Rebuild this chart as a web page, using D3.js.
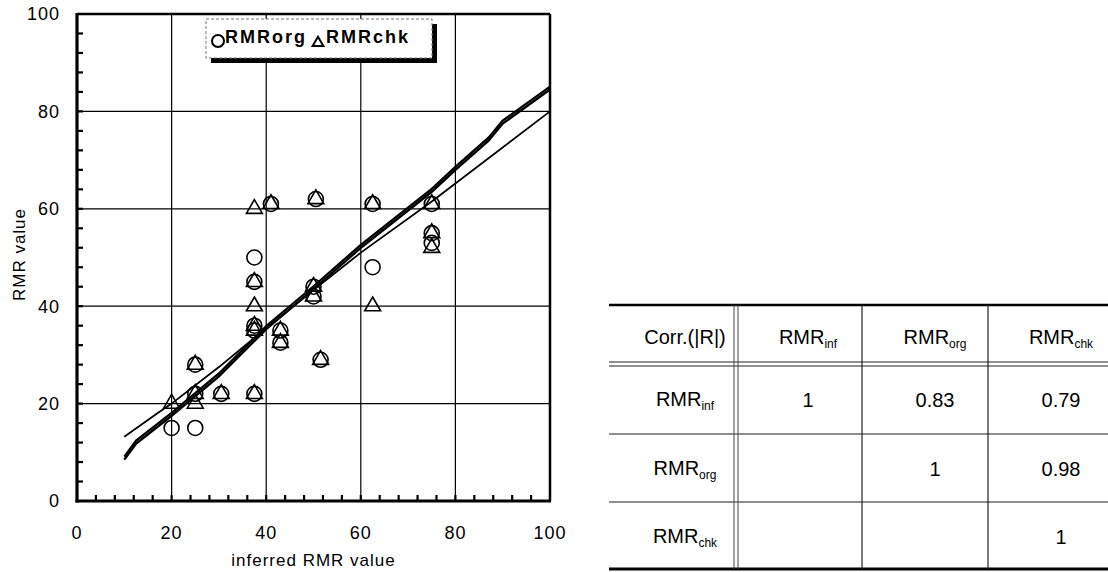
<!DOCTYPE html>
<html>
<head>
<meta charset="utf-8">
<script src="https://cdn.jsdelivr.net/npm/d3@7"></script>
<style>
  body { margin: 0; background: #fff; }
  svg { display: block; font-family: "Liberation Sans", Arial, sans-serif; }
</style>
</head>
<body>
<script>
  // ----- data -----
  const orgX = [20, 25, 25, 25, 30.5, 37.5, 37.5, 37.5, 37.5, 37.5, 41, 43, 43, 50, 50, 50.5, 51.5, 62.5, 62.5, 75, 75, 75];
  const orgY = [15, 15, 22, 28, 22, 22, 35, 36, 45, 50, 61, 35, 32.5, 42, 44, 62, 29, 48, 61, 61, 55, 53];

  const chkX = [20, 25, 25, 25, 30.5, 37.5, 37.5, 37.5, 37.5, 37.5, 37.5, 41, 43, 43, 50, 50, 50.5, 51.5, 62.5, 62.5, 75, 75, 75];
  const chkY = [20, 20, 22, 28, 22, 22, 35, 36, 40, 45, 60, 61, 35, 32.5, 42, 44, 62, 29, 40, 61, 61, 55, 52];

  // fitted lines (wobbly in the original)
  const thinX = [10, 17, 20, 30, 40, 50, 60, 75, 100];
  const thinY = [13.2, 18, 20, 27.5, 35.5, 43.3, 51, 61.5, 80];
  const thickX = [10, 12.5, 20, 30, 40, 50, 60, 75, 80, 87, 90, 100];
  const thickY = [8.5, 11.8, 17.5, 25.6, 35.3, 43.5, 52, 63.5, 68, 74, 77.5, 84.5];

  const xTicks = [0, 20, 40, 60, 80, 100];
  const yTicks = [0, 20, 40, 60, 80, 100];

  // correlation table
  const tableCorner = "Corr.(|R|)";
  const tableNames = ["inf", "org", "chk"];
  const tableValues = [
    ["1", "0.83", "0.79"],
    ["", "1", "0.98"],
    ["", "", "1"]
  ];

  // ----- svg -----
  const W = 1108, H = 572;
  const svg = d3.select("body").append("svg")
    .attr("width", W).attr("height", H);

  const x = d3.scaleLinear().domain([0, 100]).range([77, 550]);
  const y = d3.scaleLinear().domain([0, 100]).range([501, 14]);

  const plot = svg.append("g");

  // grid
  plot.append("g").selectAll("line")
    .data(xTicks.slice(1, -1))
    .join("line")
      .attr("x1", d => x(d)).attr("x2", d => x(d))
      .attr("y1", y(0)).attr("y2", y(100))
      .attr("stroke", "#000").attr("stroke-width", 1.2);
  plot.append("g").selectAll("line")
    .data(yTicks.slice(1, -1))
    .join("line")
      .attr("x1", x(0)).attr("x2", x(100))
      .attr("y1", d => y(d)).attr("y2", d => y(d))
      .attr("stroke", "#000").attr("stroke-width", 1.2);

  // minor ticks, every 4 units, pointing inward
  const minor = d3.range(4, 100, 4);
  plot.append("g").selectAll("line")
    .data(minor)
    .join("line")
      .attr("x1", d => x(d)).attr("x2", d => x(d))
      .attr("y1", y(0)).attr("y2", y(0) - 6)
      .attr("stroke", "#000").attr("stroke-width", 2.2);
  plot.append("g").selectAll("line")
    .data(minor)
    .join("line")
      .attr("x1", x(0)).attr("x2", x(0) + 6)
      .attr("y1", d => y(d)).attr("y2", d => y(d))
      .attr("stroke", "#000").attr("stroke-width", 2.2);

  // frame
  plot.append("line").attr("x1", x(0)).attr("x2", x(100)).attr("y1", y(100)).attr("y2", y(100))
    .attr("stroke", "#000").attr("stroke-width", 2.5);
  plot.append("line").attr("x1", x(100)).attr("x2", x(100)).attr("y1", y(100)).attr("y2", y(0))
    .attr("stroke", "#000").attr("stroke-width", 2.5);
  plot.append("line").attr("x1", x(0)).attr("x2", x(0)).attr("y1", y(100) - 1).attr("y2", y(0) + 1.5)
    .attr("stroke", "#000").attr("stroke-width", 3.2);
  plot.append("line").attr("x1", x(0) - 1.5).attr("x2", x(100) + 1).attr("y1", y(0)).attr("y2", y(0))
    .attr("stroke", "#000").attr("stroke-width", 3.2);

  // tick labels
  plot.append("g").selectAll("text")
    .data(xTicks)
    .join("text")
      .attr("x", d => x(d)).attr("y", 539)
      .attr("text-anchor", "middle")
      .style("font-size", "18px").style("letter-spacing", "1px")
      .text(d => d);
  plot.append("g").selectAll("text")
    .data(yTicks)
    .join("text")
      .attr("x", 60).attr("y", d => y(d))
      .attr("dy", "0.35em")
      .attr("text-anchor", "end")
      .style("font-size", "18px").style("letter-spacing", "1px")
      .text(d => d);

  // axis titles
  plot.append("text")
    .attr("x", (x(0) + x(100)) / 2).attr("y", 566)
    .attr("text-anchor", "middle")
    .style("font-size", "17px").style("letter-spacing", "1px")
    .text("inferred RMR value");
  plot.append("text")
    .attr("transform", `translate(25,${(y(0) + y(100)) / 2 - 3}) rotate(-90)`)
    .attr("text-anchor", "middle")
    .style("font-size", "17px").style("letter-spacing", "1px")
    .text("RMR value");

  // fit lines
  const line = d3.line().x(d => x(d[0])).y(d => y(d[1]));
  const thin = d3.zip(thinX, thinY);
  const thick = d3.zip(thickX, thickY);
  plot.append("path").attr("d", line(thin))
    .attr("fill", "none").attr("stroke", "#000").attr("stroke-width", 1.8);
  plot.append("path").attr("d", line(thick))
    .attr("fill", "none").attr("stroke", "#000").attr("stroke-width", 2.4);
  plot.append("path").attr("d", line(thick.map(d => [d[0], d[1] + 0.6])))
    .attr("fill", "none").attr("stroke", "#000").attr("stroke-width", 2.2);

  // markers
  plot.append("g").selectAll("circle")
    .data(d3.zip(orgX, orgY))
    .join("circle")
      .attr("cx", d => x(d[0])).attr("cy", d => y(d[1]))
      .attr("r", 7.5)
      .attr("fill", "none").attr("stroke", "#000").attr("stroke-width", 1.6);
  const tri = d3.symbol(d3.symbolTriangle, 110);
  plot.append("g").selectAll("path")
    .data(d3.zip(chkX, chkY))
    .join("path")
      .attr("transform", d => `translate(${x(d[0])},${y(d[1])})`)
      .attr("d", tri)
      .attr("fill", "none").attr("stroke", "#000").attr("stroke-width", 1.6);

  // legend
  const lg = svg.append("g");
  lg.append("rect").attr("x", 211).attr("y", 24).attr("width", 226).attr("height", 39).attr("fill", "#000");
  lg.append("rect").attr("x", 206).attr("y", 19).attr("width", 226).attr("height", 39)
    .attr("fill", "#fff").attr("stroke", "#777").attr("stroke-width", 1).attr("stroke-dasharray", "3,2");
  lg.append("circle").attr("cx", 218).attr("cy", 41).attr("r", 6)
    .attr("fill", "none").attr("stroke", "#000").attr("stroke-width", 2);
  lg.append("text").attr("x", 225).attr("y", 43)
    .style("font-size", "18px").style("font-weight", "bold").style("letter-spacing", "2px")
    .text("RMRorg");
  lg.append("path").attr("transform", "translate(318,43)").attr("d", d3.symbol(d3.symbolTriangle, 50))
    .attr("fill", "none").attr("stroke", "#000").attr("stroke-width", 2);
  lg.append("text").attr("x", 326).attr("y", 43)
    .style("font-size", "18px").style("font-weight", "bold").style("letter-spacing", "2px")
    .text("RMRchk");

  // ----- table -----
  const colEdges = [609, 736, 862, 988, 1108];
  const rowEdges = [305, 364, 434, 502, 569];
  const colText = [685, 808, 935, 1061];
  const tbl = svg.append("g");

  // horizontal rules
  tbl.append("line").attr("x1", colEdges[0]).attr("x2", W).attr("y1", rowEdges[0]).attr("y2", rowEdges[0])
    .attr("stroke", "#000").attr("stroke-width", 2.5);
  tbl.append("line").attr("x1", colEdges[0]).attr("x2", W).attr("y1", rowEdges[1] - 2).attr("y2", rowEdges[1] - 2)
    .attr("stroke", "#222").attr("stroke-width", 1.2);
  tbl.append("line").attr("x1", colEdges[0]).attr("x2", W).attr("y1", rowEdges[1] + 2).attr("y2", rowEdges[1] + 2)
    .attr("stroke", "#222").attr("stroke-width", 1.2);
  tbl.selectAll("line.row")
    .data(rowEdges.slice(2, -1))
    .join("line").attr("class", "row")
      .attr("x1", colEdges[0]).attr("x2", W)
      .attr("y1", d => d).attr("y2", d => d)
      .attr("stroke", "#222").attr("stroke-width", 1.2);
  tbl.append("line").attr("x1", colEdges[0]).attr("x2", W).attr("y1", rowEdges[4]).attr("y2", rowEdges[4])
    .attr("stroke", "#000").attr("stroke-width", 3);

  // vertical rules
  [colEdges[1] - 2, colEdges[1] + 2].forEach(cx => {
    tbl.append("line").attr("x1", cx).attr("x2", cx).attr("y1", rowEdges[0]).attr("y2", rowEdges[4])
      .attr("stroke", "#444").attr("stroke-width", 1);
  });
  tbl.selectAll("line.col")
    .data(colEdges.slice(2, -1))
    .join("line").attr("class", "col")
      .attr("x1", d => d).attr("x2", d => d)
      .attr("y1", rowEdges[0]).attr("y2", rowEdges[4])
      .attr("stroke", "#222").attr("stroke-width", 1.2);

  const rowMid = i => (rowEdges[i] + rowEdges[i + 1]) / 2;
  const fs = 20;

  function rmr(sel, name) {
    sel.append("tspan").text("RMR");
    sel.append("tspan").attr("dy", 4).style("font-size", "12px").text(name);
  }

  tbl.append("text")
    .attr("x", colText[0]).attr("y", rowMid(0) + 9)
    .attr("text-anchor", "middle").style("font-size", fs + "px")
    .text(tableCorner);

  tableNames.forEach((n, i) => {
    rmr(tbl.append("text")
      .attr("x", colText[i + 1]).attr("y", rowMid(0) + 9)
      .attr("text-anchor", "middle").style("font-size", fs + "px"), n);
    rmr(tbl.append("text")
      .attr("x", colText[0]).attr("y", rowMid(i + 1) + 7)
      .attr("text-anchor", "middle").style("font-size", fs + "px"), n);
  });

  tableValues.forEach((row, i) => {
    row.forEach((v, j) => {
      tbl.append("text")
        .attr("x", colText[j + 1]).attr("y", rowMid(i + 1) + 8)
        .attr("text-anchor", "middle").style("font-size", fs + "px")
        .text(v);
    });
  });
</script>
</body>
</html>
